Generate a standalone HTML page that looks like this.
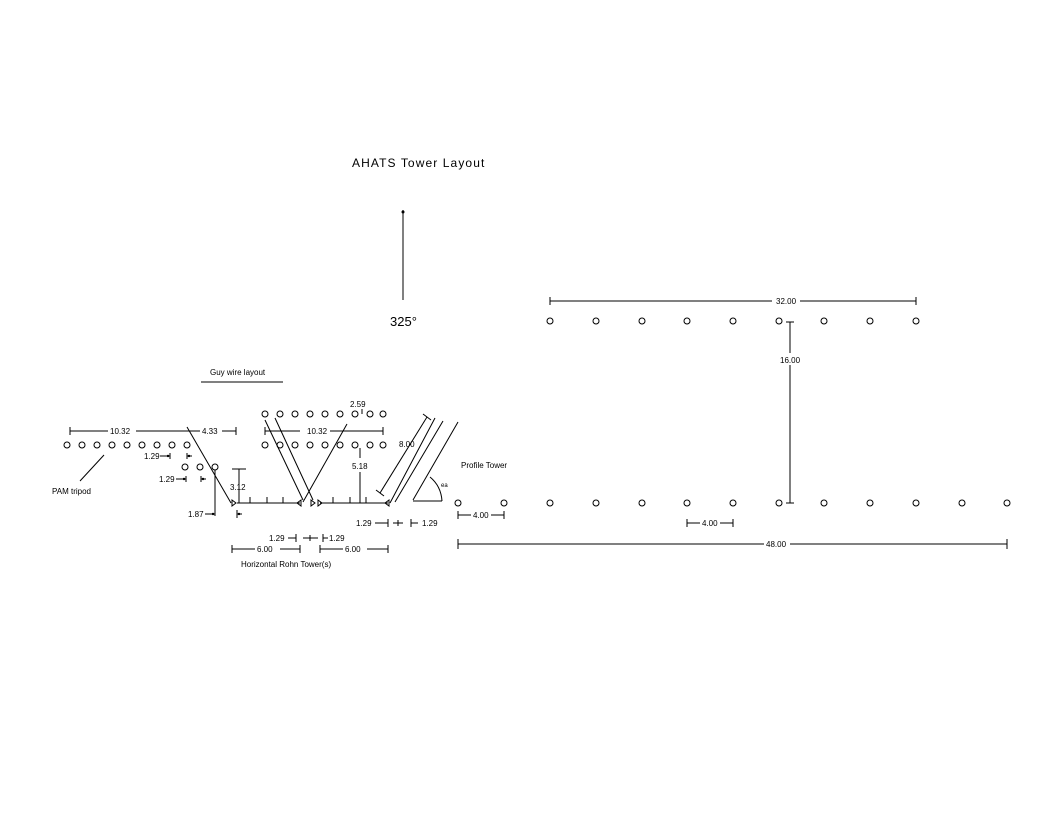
<!DOCTYPE html>
<html><head><meta charset="utf-8"><style>
html,body{margin:0;padding:0;background:#fff}
svg{display:block}
text{font-family:"Liberation Sans",sans-serif;fill:#000}
</style></head><body>
<svg width="1056" height="816" viewBox="0 0 1056 816" xmlns="http://www.w3.org/2000/svg">
<g stroke="#000" stroke-width="1" fill="none">
<line x1="403" y1="210" x2="403" y2="300"/>
<g>
<circle cx="550" cy="321" r="3"/><circle cx="596" cy="321" r="3"/><circle cx="642" cy="321" r="3"/><circle cx="687" cy="321" r="3"/><circle cx="733" cy="321" r="3"/><circle cx="779" cy="321" r="3"/><circle cx="824" cy="321" r="3"/><circle cx="870" cy="321" r="3"/><circle cx="916" cy="321" r="3"/>
</g>
<g>
<circle cx="458" cy="503" r="3"/><circle cx="504" cy="503" r="3"/><circle cx="550" cy="503" r="3"/><circle cx="596" cy="503" r="3"/><circle cx="642" cy="503" r="3"/><circle cx="687" cy="503" r="3"/><circle cx="733" cy="503" r="3"/><circle cx="779" cy="503" r="3"/><circle cx="824" cy="503" r="3"/><circle cx="870" cy="503" r="3"/><circle cx="916" cy="503" r="3"/><circle cx="962" cy="503" r="3"/><circle cx="1007" cy="503" r="3"/>
</g>
<line x1="550" y1="301" x2="772" y2="301"/><line x1="800" y1="301" x2="916" y2="301"/>
<line x1="550" y1="297" x2="550" y2="305"/><line x1="916" y1="297" x2="916" y2="305"/>
<line x1="790" y1="322" x2="790" y2="353"/><line x1="790" y1="365" x2="790" y2="503"/>
<line x1="786" y1="322" x2="794" y2="322"/><line x1="786" y1="503" x2="794" y2="503"/>
<line x1="458" y1="515" x2="471" y2="515"/><line x1="491" y1="515" x2="504" y2="515"/><line x1="458" y1="511" x2="458" y2="519"/><line x1="504" y1="511" x2="504" y2="519"/>
<line x1="687" y1="523" x2="700" y2="523"/><line x1="720" y1="523" x2="733" y2="523"/><line x1="687" y1="519" x2="687" y2="527"/><line x1="733" y1="519" x2="733" y2="527"/>
<line x1="458" y1="544" x2="764" y2="544"/><line x1="790" y1="544" x2="1007" y2="544"/><line x1="458" y1="539" x2="458" y2="549"/><line x1="1007" y1="539" x2="1007" y2="549"/>
<circle cx="67" cy="445" r="3"/><circle cx="82" cy="445" r="3"/><circle cx="97" cy="445" r="3"/><circle cx="112" cy="445" r="3"/><circle cx="127" cy="445" r="3"/><circle cx="142" cy="445" r="3"/><circle cx="157" cy="445" r="3"/><circle cx="172" cy="445" r="3"/><circle cx="187" cy="445" r="3"/>
<circle cx="185" cy="467" r="3"/><circle cx="200" cy="467" r="3"/><circle cx="215" cy="467" r="3"/>
<line x1="70" y1="431" x2="108" y2="431"/><line x1="136" y1="431" x2="187" y2="431"/><line x1="70" y1="427" x2="70" y2="435"/>
<line x1="187" y1="431" x2="200" y2="431"/><line x1="222" y1="431" x2="236" y2="431"/><line x1="236" y1="427" x2="236" y2="435"/>
<line x1="80" y1="481" x2="104" y2="455"/>
<line x1="187" y1="427" x2="231" y2="503"/>
<line x1="160" y1="456" x2="170" y2="456"/><line x1="170" y1="453" x2="170" y2="459"/><line x1="187" y1="456" x2="192" y2="456"/><line x1="187" y1="453" x2="187" y2="459"/>
<line x1="176" y1="479" x2="186" y2="479"/><line x1="186" y1="476" x2="186" y2="482"/><line x1="201" y1="479" x2="206" y2="479"/><line x1="201" y1="476" x2="201" y2="482"/>
<line x1="215" y1="470" x2="215" y2="516"/><line x1="205" y1="514" x2="215" y2="514"/><line x1="237" y1="514" x2="242" y2="514"/><line x1="237" y1="510" x2="237" y2="518"/>
<line x1="239" y1="469" x2="239" y2="503"/><line x1="232" y1="469" x2="246" y2="469"/>
<line x1="237" y1="503" x2="300" y2="503"/><line x1="320" y1="503" x2="388" y2="503"/>
<line x1="250" y1="503" x2="250" y2="497"/><line x1="267" y1="503" x2="267" y2="497"/><line x1="283" y1="503" x2="283" y2="497"/>
<line x1="333" y1="503" x2="333" y2="497"/><line x1="350" y1="503" x2="350" y2="497"/><line x1="366" y1="503" x2="366" y2="497"/>
<path d="M232 500 L236 503 L232 506 Z"/><path d="M301 500 L297 503 L301 506 Z"/><path d="M311 500 L315 503 L311 506 Z"/><path d="M318 500 L322 503 L318 506 Z"/><path d="M389 500 L385 503 L389 506 Z"/>
<circle cx="265" cy="414" r="3"/><circle cx="280" cy="414" r="3"/><circle cx="295" cy="414" r="3"/><circle cx="310" cy="414" r="3"/><circle cx="325" cy="414" r="3"/><circle cx="340" cy="414" r="3"/><circle cx="355" cy="414" r="3"/><circle cx="370" cy="414" r="3"/><circle cx="383" cy="414" r="3"/>
<circle cx="265" cy="445" r="3"/><circle cx="280" cy="445" r="3"/><circle cx="295" cy="445" r="3"/><circle cx="310" cy="445" r="3"/><circle cx="325" cy="445" r="3"/><circle cx="340" cy="445" r="3"/><circle cx="355" cy="445" r="3"/><circle cx="370" cy="445" r="3"/><circle cx="383" cy="445" r="3"/>
<line x1="265" y1="431" x2="300" y2="431"/><line x1="330" y1="431" x2="383" y2="431"/><line x1="265" y1="427" x2="265" y2="435"/><line x1="383" y1="427" x2="383" y2="435"/>
<line x1="362" y1="409" x2="362" y2="414"/>
<line x1="360" y1="448" x2="360" y2="458"/><line x1="360" y1="472" x2="360" y2="503"/>
<line x1="265" y1="420" x2="303" y2="500"/><line x1="275" y1="418" x2="313" y2="500"/>
<line x1="347" y1="424" x2="303" y2="502"/>
<line x1="380" y1="493" x2="427" y2="417"/><line x1="376" y1="490" x2="384" y2="496"/><line x1="423" y1="414" x2="431" y2="420"/>
<line x1="435" y1="418" x2="390" y2="503"/><line x1="443" y1="421" x2="395" y2="502"/><line x1="458" y1="422" x2="413" y2="500"/>
<line x1="413" y1="501" x2="442" y2="501"/>
<path d="M442 501 Q441 486 430 477"/>
<line x1="375" y1="523" x2="388" y2="523"/><line x1="388" y1="519" x2="388" y2="527"/><line x1="393" y1="523" x2="403" y2="523"/><line x1="398" y1="520" x2="398" y2="526"/><line x1="411" y1="523" x2="418" y2="523"/><line x1="411" y1="519" x2="411" y2="527"/>
<line x1="288" y1="538" x2="296" y2="538"/><line x1="296" y1="534" x2="296" y2="542"/><line x1="303" y1="538" x2="318" y2="538"/><line x1="310" y1="535" x2="310" y2="541"/><line x1="323" y1="538" x2="328" y2="538"/><line x1="323" y1="534" x2="323" y2="542"/>
<line x1="232" y1="549" x2="255" y2="549"/><line x1="280" y1="549" x2="300" y2="549"/><line x1="232" y1="545" x2="232" y2="553"/><line x1="300" y1="545" x2="300" y2="553"/>
<line x1="320" y1="549" x2="343" y2="549"/><line x1="367" y1="549" x2="388" y2="549"/><line x1="320" y1="545" x2="320" y2="553"/><line x1="388" y1="545" x2="388" y2="553"/>
<line x1="201" y1="382" x2="283" y2="382"/>
</g>
<g fill="#000">
<circle cx="403" cy="212" r="1.5"/>
<circle cx="168" cy="456" r="1.2"/><circle cx="189" cy="456" r="1.2"/>
<circle cx="184" cy="479" r="1.2"/><circle cx="203" cy="479" r="1.2"/>
<circle cx="213" cy="514" r="1.2"/><circle cx="239" cy="514" r="1.2"/>
</g>
<g font-size="9">
<text x="352" y="167" font-size="12" letter-spacing="1.1">AHATS  Tower  Layout</text>
<text x="390" y="326" font-size="13">325°</text>
<text x="776" y="304" font-size="8">32.00</text>
<text x="780" y="363" font-size="8">16.00</text>
<text x="473" y="518" font-size="8">4.00</text>
<text x="702" y="526" font-size="8">4.00</text>
<text x="766" y="547" font-size="8">48.00</text>
<text x="210" y="375" font-size="8">Guy wire layout</text>
<text x="110" y="434" font-size="8">10.32</text>
<text x="202" y="434" font-size="8">4.33</text>
<text x="144" y="459" font-size="8">1.29</text>
<text x="159" y="482" font-size="8">1.29</text>
<text x="52" y="494" font-size="8">PAM tripod</text>
<text x="188" y="517" font-size="8">1.87</text>
<text x="230" y="490" font-size="8">3.12</text>
<text x="307" y="434" font-size="8">10.32</text>
<text x="350" y="407" font-size="8">2.59</text>
<text x="352" y="469" font-size="8">5.18</text>
<text x="399" y="447" font-size="8">8.00</text>
<text x="461" y="468" font-size="8">Profile Tower</text>
<text x="441" y="487" font-size="6">ea</text>
<text x="356" y="526" font-size="8">1.29</text>
<text x="422" y="526" font-size="8">1.29</text>
<text x="269" y="541" font-size="8">1.29</text>
<text x="329" y="541" font-size="8">1.29</text>
<text x="257" y="552" font-size="8">6.00</text>
<text x="345" y="552" font-size="8">6.00</text>
<text x="241" y="567" font-size="8">Horizontal Rohn Tower(s)</text>
</g>
</svg>
</body></html>
